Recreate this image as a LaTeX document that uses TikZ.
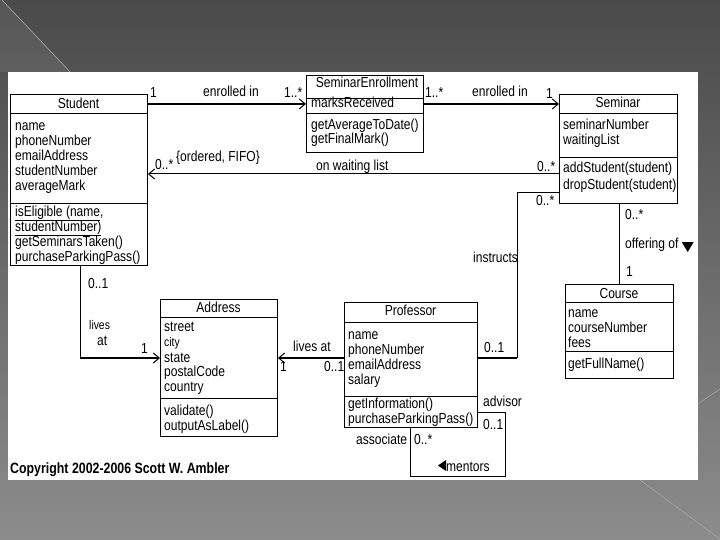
\documentclass[tikz,border=0pt]{standalone}
\usepackage{fontspec}
\setmainfont[FakeStretch=0.83]{Liberation Sans}
\usetikzlibrary{arrows.meta}
\definecolor{bgtop}{HTML}{4A4A4A}
\definecolor{bgbot}{HTML}{8C8C8C}
\definecolor{bgline}{HTML}{A0A0A0}
\begin{document}
\begin{tikzpicture}[x=1pt,y=-1pt,
  every node/.style={font=\fontsize{14.5}{15}\selectfont},
  box/.style={draw=black, line width=0.9pt, fill=white, anchor=north west, inner sep=0pt, minimum width=#1},
  txt/.style={anchor=base west, inner sep=0pt},
  ttl/.style={anchor=base, inner sep=0pt},
  lab/.style={anchor=base west, inner sep=0pt},
  thn/.style={draw=black, line width=1pt},
  thk/.style={draw=black, line width=1.9pt},
  nav/.style={-{Straight Barb[length=6pt,width=10pt,line width=1pt]}}]
\useasboundingbox (0,0) rectangle (720,540);
% slide background
\fill[top color=bgtop, bottom color=bgbot] (0,0) rectangle (720,540);
\fill[white, opacity=0.07] (0,0) -- (2,0) -- (70,72) -- (0,72) -- cycle;
\draw[bgline, line width=0.7pt] (2,0) -- (72,74);
\draw[bgline, line width=0.7pt] (636,477) -- (720,539);
\draw[bgline, line width=0.7pt] (696,405) -- (720,389);
% white panel
\fill[white] (8,72) rectangle (698,480);

% ---------- Student ----------
\node[box=137pt, minimum height=19pt] (stuT) at (10,94) {};
\node[box=137pt, minimum height=90pt] (stuA) at (10,113) {};
\node[box=137pt, minimum height=62pt] (stuM) at (10,203) {};
\node[ttl] (stuTt) at (78.5,109) {Student};
\foreach \s [count=\i from 0] in {name,phoneNumber,emailAddress,studentNumber,averageMark}
  \node[txt] (stuA\i) at (15,{131+15*\i}) {\s};
\node[txt] (stuM0) at (15,216) {\underline{isEligible (name},};
\node[txt] (stuM1) at (15,231) {\underline{studentNumber)}};
\node[txt] (stuM2) at (15,246) {getSeminarsTaken()};
\node[txt] (stuM3) at (15,261) {purchaseParkingPass()};

% ---------- SeminarEnrollment ----------
\node[box=117pt, minimum height=23pt] (seT) at (306,75) {};
\node[box=117pt, minimum height=15pt] (seA) at (306,98) {};
\node[box=117pt, minimum height=39pt] (seM) at (306,113) {};
\node[ttl] (seTt) at (367,88) {SeminarEnrollment};
\node[txt] (seA0) at (311,108) {marksReceived};
\node[txt] (seM0) at (311,130) {getAverageToDate()};
\node[txt] (seM1) at (311,144) {getFinalMark()};

% ---------- Seminar ----------
\node[box=118pt, minimum height=19pt] (semT) at (559,94) {};
\node[box=118pt, minimum height=44pt] (semA) at (559,113) {};
\node[box=118pt, minimum height=46pt] (semM) at (559,157) {};
\node[ttl] (semTt) at (618,108) {Seminar};
\node[txt] (semA0) at (563,130) {seminarNumber};
\node[txt] (semA1) at (563,145) {waitingList};
\node[txt] (semM0) at (563,173) {addStudent(student)};
\node[txt] (semM1) at (563,190) {dropStudent(student)};

% ---------- Course ----------
\node[box=108pt, minimum height=18pt] (crsT) at (565,284) {};
\node[box=108pt, minimum height=49pt] (crsA) at (565,302) {};
\node[box=108pt, minimum height=27pt] (crsM) at (565,351) {};
\node[ttl] (crsTt) at (619,298) {Course};
\node[txt] (crsA0) at (568,317) {name};
\node[txt] (crsA1) at (568,332) {courseNumber};
\node[txt] (crsA2) at (568,347) {fees};
\node[txt] (crsM0) at (568,368) {getFullName()};

% ---------- Address ----------
\node[box=117pt, minimum height=18pt] (adrT) at (160,299) {};
\node[box=117pt, minimum height=81pt] (adrA) at (160,317) {};
\node[box=117pt, minimum height=38pt] (adrM) at (160,398) {};
\node[ttl] (adrTt) at (218.5,312) {Address};
\node[txt] (adrA0) at (164,331) {street};
\node[txt, font=\fontsize{12.5}{15}\selectfont] (adrA1) at (164,346) {city};
\node[txt] (adrA2) at (164,362) {state};
\node[txt] (adrA3) at (164,376) {postalCode};
\node[txt] (adrA4) at (164,391) {country};
\node[txt] (adrM0) at (164,415) {validate()};
\node[txt] (adrM1) at (164,430) {outputAsLabel()};

% ---------- Professor ----------
\node[box=133pt, minimum height=20pt] (prfT) at (344,302) {};
\node[box=133pt, minimum height=74pt] (prfA) at (344,322) {};
\node[box=133pt, minimum height=31pt] (prfM) at (344,396) {};
\node[ttl] (prfTt) at (410.5,315) {Professor};
\node[txt] (prfA0) at (348,339) {name};
\node[txt] (prfA1) at (348,354) {phoneNumber};
\node[txt] (prfA2) at (348,369) {emailAddress};
\node[txt] (prfA3) at (348,384) {salary};
\node[txt] (prfM0) at (348,408) {getInformation()};
\node[txt] (prfM1) at (348,423) {purchaseParkingPass()};

% ---------- connectors ----------
\coordinate (wl) at (559,174);
\coordinate (in1) at (517,193);
\coordinate (in2) at (517,358);
\coordinate (of) at (619,250);
\coordinate (sa) at (80,358);
\coordinate (m1) at (505,412);
\coordinate (m2) at (505,476);
\coordinate (m3) at (410,476);

\draw[thk, nav] (stuT.east) -- (stuT.east -| seA.west);
\draw[thk, nav] (seA.east |- semT.west) -- (semT.west);
\draw[thn, nav] (semM.west |- wl) -- (stuA.east |- wl);
\draw[thn] (semM.west |- in1) -- (in1) -- (in2);
\draw[thk] (in2) -- (prfA.east |- in2);
\draw[thn] (semM.south -| of) -- (crsT.north -| of);
\draw[thn] (stuM.south -| sa) -- (sa);
\draw[thk, nav] (sa) -- (adrA.west |- sa);
\draw[thk, nav] (prfA.west |- sa) -- (adrA.east |- sa);
\draw[thn] (prfM.east |- m1) -- (m1) -- (m2) -- (m3) -- (prfM.south -| m3);

% ---------- labels ----------
\node[lab] (l1) at (150,98) {1};
\node[lab] (l2) at (203,97) {enrolled in};
\node[lab] (l3) at (284,98) {1..*};
\node[lab] (l4) at (425,98) {1..*};
\node[lab] (l5) at (472,97) {enrolled in};
\node[lab] (l6) at (546,99) {1};
\node[lab] (l7) at (155,170) {0..*};
\node[lab] (l8) at (176,162) {\{ordered, FIFO\}};
\node[lab] (l9) at (316,171) {on waiting list};
\node[lab] (l10) at (537,172) {0..*};
\node[lab] (l11) at (536,206) {0..*};
\node[lab] (l12) at (473,262) {instructs};
\node[lab] (l13) at (484,352) {0..1};
\node[lab] (l14) at (625,220) {0..*};
\node[lab] (l15) at (625,248) {offering of};
\fill ([xshift=3pt,yshift=6pt]l15.base east) -- ++(12,0) -- ++(-6,10) -- cycle;
\node[lab] (l16) at (626,276) {1};
\node[lab] (l17) at (88,288) {0..1};
\node[lab, font=\fontsize{12.5}{15}\selectfont] (l18) at (89,329) {lives};
\node[lab] (l19) at (97,345) {at};
\node[lab] (l20) at (141,353) {1};
\node[lab] (l21) at (293,351) {lives at};
\node[lab] (l22) at (280,371) {1};
\node[lab] (l23) at (324,371) {0..1};
\node[lab] (l24) at (483,406) {advisor};
\node[lab] (l25) at (483,429) {0..1};
\node[lab] (l26) at (356,444) {associate};
\node[lab] (l27) at (414,444) {0..*};
\node[lab] (l28) at (446,471) {mentors};
\fill (438,465.5) -- (446,460) -- (446,471) -- cycle;
\node[lab, font=\fontsize{14.9}{15}\selectfont\bfseries] (copy) at (10,473) {Copyright 2002-2006 Scott W. Ambler};
\end{tikzpicture}
\end{document}
